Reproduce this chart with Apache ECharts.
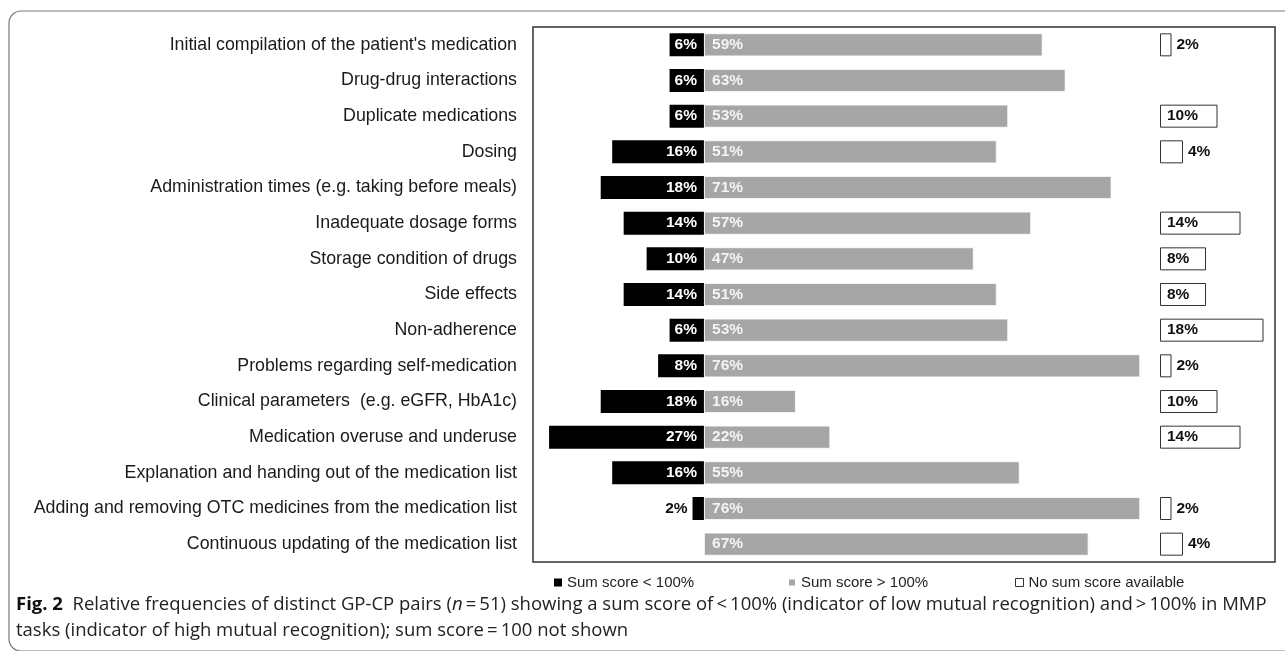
<!DOCTYPE html>
<html>
<head>
<meta charset="utf-8">
<script src="https://cdn.jsdelivr.net/npm/echarts@6/dist/echarts.min.js"></script>
<style>
html,body{margin:0;padding:0;background:#fff;}
#chart{width:1285px;height:651px;}
</style>
</head>
<body>
<div id="chart"></div>
<script>
const categories = [
  "Initial compilation of the patient's medication",
  "Drug-drug interactions",
  "Duplicate medications",
  "Dosing",
  "Administration times (e.g. taking before meals)",
  "Inadequate dosage forms",
  "Storage condition of drugs",
  "Side effects",
  "Non-adherence",
  "Problems regarding self-medication",
  "Clinical parameters  (e.g. eGFR, HbA1c)",
  "Medication overuse and underuse",
  "Explanation and handing out of the medication list",
  "Adding and removing OTC medicines from the medication list",
  "Continuous updating of the medication list"
];
const lowScore  = [6, 6, 6, 16, 18, 14, 10, 14, 6, 8, 18, 27, 16, 2, null];
const highScore = [59, 63, 53, 51, 71, 57, 47, 51, 53, 76, 16, 22, 55, 76, 67];
const noScore   = [2, null, 10, 4, null, 14, 8, 8, 18, 2, 10, 14, null, 2, 4];
const legendNames = ["Sum score < 100%", "Sum score > 100%", "No sum score available"];

const chart = echarts.init(document.getElementById('chart'));
const FONT = '"Liberation Sans", Arial, sans-serif';
const CAP = '"Open Sans", sans-serif';

const lowData = lowScore.map(v => {
  if (v == null) return null;
  const item = { value: -v };
  if (v < 4) item.label = { position: 'left', color: '#111', distance: 5 };
  return item;
});
const noData = noScore.map(v => {
  if (v == null) return null;
  const item = { value: v };
  if (v <= 4) item.label = { position: 'right', distance: 5 };
  return item;
});
const legendText = { fontFamily: FONT, fontSize: 15, color: '#222' };

const option = {
  animation: false,
  backgroundColor: '#fff',
  grid: [
    { left: 533, right: 10, top: 27, bottom: 89, show: true, borderColor: '#333', borderWidth: 1.5, backgroundColor: 'transparent' },
    { left: 1160, right: 10, top: 27, bottom: 89, show: false }
  ],
  xAxis: [
    { gridIndex: 0, type: 'value', min: -29.8, max: 99.5, show: false },
    { gridIndex: 1, type: 'value', min: 0, max: 20, show: false }
  ],
  yAxis: [
    { gridIndex: 0, type: 'category', data: categories, inverse: true,
      axisLine: { show: false }, axisTick: { show: false }, splitLine: { show: false },
      axisLabel: { fontFamily: FONT, fontSize: 17.8, color: '#1a1a1a', margin: 16 } },
    { gridIndex: 1, type: 'category', data: categories, inverse: true, show: false }
  ],
  legend: [
    { left: 549, top: 570, itemWidth: 8, itemHeight: 8, icon: 'rect', data: [legendNames[0]], textStyle: legendText },
    { left: 782, top: 570, itemWidth: 8, itemHeight: 8, icon: 'rect', data: [legendNames[1]], textStyle: legendText },
    { left: 1010, top: 570, itemWidth: 8, itemHeight: 8, icon: 'rect', data: [legendNames[2]], textStyle: legendText,
      itemStyle: { borderWidth: 1, borderColor: '#333' } }
  ],
  series: [
    {
      name: legendNames[0], type: 'bar', xAxisIndex: 0, yAxisIndex: 0,
      stack: 'main', barWidth: 23, data: lowData,
      itemStyle: { color: '#000' },
      label: { show: true, position: 'insideRight', distance: 7, color: '#fff', fontFamily: FONT, fontWeight: 'bold', fontSize: 15.5,
        formatter: p => Math.abs(p.value) + '%' }
    },
    {
      name: legendNames[1], type: 'bar', xAxisIndex: 0, yAxisIndex: 0,
      stack: 'main', barWidth: 23, data: highScore,
      itemStyle: { color: '#a6a6a6', borderColor: '#fff', borderWidth: 0.8 },
      label: { show: true, position: 'insideLeft', distance: 8, color: '#f4f4f4', fontFamily: FONT, fontWeight: 'bold', fontSize: 15.5,
        formatter: p => p.value + '%' }
    },
    {
      name: legendNames[2], type: 'bar', xAxisIndex: 1, yAxisIndex: 1,
      barWidth: 23, data: noData,
      itemStyle: { color: '#fff', borderColor: '#333', borderWidth: 1 },
      label: { show: true, position: 'insideLeft', distance: 7, color: '#111', fontFamily: FONT, fontWeight: 'bold', fontSize: 15.5,
        formatter: p => p.value + '%' }
    }
  ],
  graphic: [
    { type: 'rect', shape: { x: 9, y: 11, width: 1320, height: 640, r: 12 },
      style: { fill: 'transparent', stroke: '#7a7a7a', lineWidth: 1.2 }, z: -1 },
    { type: 'text', left: 16, top: 595, style: {
        text: '{b|Fig. 2}  Relative frequencies of distinct GP-CP pairs ({i|n}\u2009=\u200951) showing a sum score of\u2009<\u2009100% (indicator of low mutual recognition) and\u2009>\u2009100% in MMP',
        rich: {
          b: { fontFamily: CAP, fontWeight: 'bold', fontSize: 18.5, fill: '#111' },
          i: { fontFamily: CAP, fontStyle: 'italic', fontSize: 18.5, fill: '#222' }
        },
        font: '18.5px "Open Sans", sans-serif', fill: '#222'
      } },
    { type: 'text', left: 16, top: 621, style: {
        text: 'tasks (indicator of high mutual recognition); sum score\u2009=\u2009100 not shown',
        font: '18.5px "Open Sans", sans-serif', fill: '#222'
      } }
  ]
};
chart.setOption(option);
</script>
</body>
</html>
